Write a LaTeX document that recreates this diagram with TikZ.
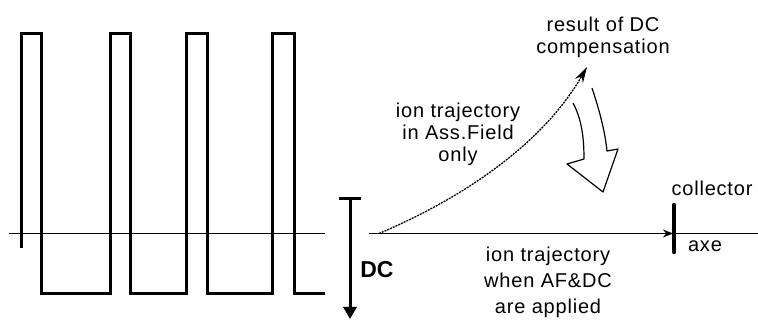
\documentclass[tikz,border=0pt]{standalone}
\usepackage{fontspec}
\setmainfont{Liberation Sans}
\newfontfamily\lblfont{Liberation Sans}[LetterSpace=4]
\usetikzlibrary{arrows.meta}
\tikzset{
  wave/.style={line width=3pt, line join=miter},
  axisline/.style={line width=1.3pt},
  traj/.style={line width=1.3pt, dash pattern=on 2pt off 1pt},
  hollow/.style={line width=1.2pt, line join=round},
  lbl/.style={font=\lblfont\fontsize{20}{22}\selectfont, align=center, inner sep=0pt},
}
\begin{document}
\begin{tikzpicture}[x=1pt,y=-1pt]
\useasboundingbox (0,0) rectangle (758,320);
% square wave
\draw[wave] (21,248) |- (41,34) |- (110,294) |- (130,34) |- (186,294) |- (207,34) |- (272,294) |- (294,34) |- (325,294);
% axis left
\coordinate (aL1) at (9,233.5);
\coordinate (aL2) at (325,233.5);
\draw[axisline] (aL1) -- (aL2);
% DC arrow
\coordinate (dcTop) at (350,199);
\coordinate (dcBot) at (350,319);
\draw[line width=3pt, -{Triangle[width=13pt,length=12pt]}] (dcTop) -- (dcBot);
\draw[line width=3pt] (339,199) -- (361,199);
\node[font=\bfseries\fontsize{23}{26}\selectfont, inner sep=0pt] (dc) at (377,270) {DC};
% axis right
\coordinate (start) at (379,233.5);
\coordinate (aR1) at (369,233.5);
\coordinate (col) at (673,233.5);
\coordinate (aR2) at (758,233.5);
\draw[axisline, -{Stealth[length=10pt,width=8pt]}] (aR1) -- (col);
\draw[axisline] (col) -- (aR2);
% collector bar
\coordinate (cTop) at (674,205);
\coordinate (cBot) at (674,252);
\draw[line width=4.5pt, line cap=round] (cTop) -- (cBot);
% trajectory curve
\coordinate (peak) at (587,67);
\draw[traj, -{Stealth[length=16pt,width=9pt]}] (start) .. controls (470,195) and (545,140) .. (peak);
% hollow curved arrow
\draw[hollow] (592,88) .. controls (600,112) and (605,132) .. (607,151) -- (618,149) -- (603,192) -- (567,164) -- (584,159) .. controls (584,135) and (581,118) .. (573,103);
% labels
\node[lbl] (res) at (603,37) {result of DC\\compensation};
\node[lbl] (af) at (458,134) {ion trajectory\\in Ass.Field\\only};
\node[lbl] (coll) at (712,188) {collector};
\node[lbl] (axe) at (705,246) {axe};
\node[lbl, font=\lblfont\fontsize{20}{26}\selectfont] (both) at (548,282) {ion trajectory\\when AF\&DC\\are applied};
\end{tikzpicture}
\end{document}
